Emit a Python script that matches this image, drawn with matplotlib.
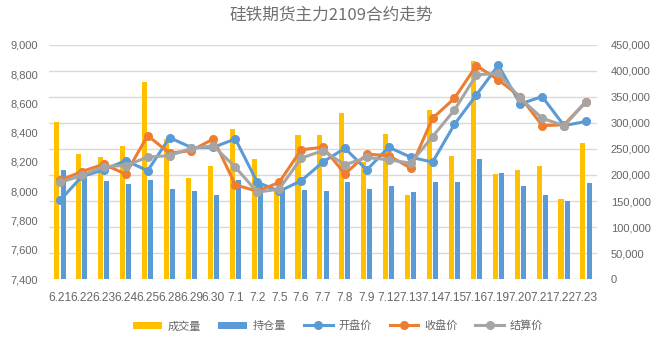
import matplotlib.pyplot as plt
import numpy as np

plt.rcParams['font.family'] = ['Liberation Sans', 'Noto Sans CJK SC', 'DejaVu Sans']

dates = ['6.21', '6.22', '6.23', '6.24', '6.25', '6.28', '6.29', '6.30', '7.1', '7.2',
         '7.5', '7.6', '7.7', '7.8', '7.9', '7.12', '7.13', '7.14', '7.15', '7.16',
         '7.19', '7.20', '7.21', '7.22', '7.23']
# 成交量 / 持仓量 (right axis)
volume = [302800, 240000, 234900, 254800, 378300, 269500, 194600, 216400, 288700, 231000,
          175000, 277200, 276000, 320000, 225600, 278400, 161900, 325200, 235600, 419300,
          202300, 209300, 217000, 154300, 262400]
open_int = [209300, 194000, 188800, 182400, 189500, 173500, 168300, 161900, 189500, 184000,
            172000, 171000, 170000, 186300, 173500, 178000, 166400, 187500, 187500, 231700,
            203500, 178000, 162000, 150400, 183700]
# prices (left axis)
open_p = [7937, 8101, 8146, 8210, 8140, 8366, 8299, 8300, 8358, 8062,
          8000, 8071, 8200, 8294, 8146, 8301, 8233, 8199, 8458, 8659,
          8861, 8597, 8647, 8449, 8477]
close_p = [8074, 8135, 8185, 8117, 8381, 8260, 8278, 8358, 8044, 8000,
           8060, 8283, 8301, 8119, 8253, 8244, 8158, 8499, 8636, 8859,
           8761, 8647, 8449, 8454, 8613]
settle_p = [8060, 8108, 8169, 8176, 8233, 8244, 8294, 8310, 8165, 7994,
            8014, 8226, 8278, 8181, 8231, 8215, 8192, 8374, 8556, 8795,
            8807, 8636, 8499, 8449, 8609]

c_yellow = '#FFC000'
c_blue = '#5B9BD5'
c_orange = '#ED7D31'
c_gray = '#A5A5A5'
txt = '#666666'

fig = plt.figure(figsize=(6.56, 3.46), dpi=100)
ax = fig.add_axes([0.0747, 0.1936, 0.8353, 0.6764])
ax2 = ax.twinx()
ax.set_zorder(ax2.get_zorder() + 1)
ax.patch.set_visible(False)

x = np.arange(len(dates))
w = 0.23
ax2.bar(x - 0.14, volume, w, color=c_yellow, label='成交量', zorder=2)
ax2.bar(x + 0.14, open_int, w, color=c_blue, label='持仓量', zorder=2)
ax2.set_ylim(0, 450000)
ax2.set_yticks(np.arange(0, 450001, 50000))
ax2.yaxis.set_major_formatter(plt.FuncFormatter(lambda v, p: f'{int(v):,}'))
ax2.grid(axis='y', color='#D9D9D9', linewidth=1, zorder=0)
ax2.set_axisbelow(True)

ms = 5.5
ax.plot(x, open_p, color=c_blue, lw=2.2, marker='o', ms=ms, label='开盘价')
ax.plot(x, close_p, color=c_orange, lw=2.2, marker='o', ms=ms, label='收盘价')
ax.plot(x, settle_p, color=c_gray, lw=2.2, marker='o', ms=ms, label='结算价')
ax.set_ylim(7400, 9000)
ax.set_yticks(np.arange(7400, 9001, 200))
ax.yaxis.set_major_formatter(plt.FuncFormatter(lambda v, p: f'{int(v):,}'))
ax.set_xlim(-0.5, len(dates) - 0.5)
ax.set_xticks(x)
ax.set_xticklabels(dates)

for a in (ax, ax2):
    for s in a.spines.values():
        s.set_visible(False)
    a.tick_params(length=0, labelsize=8, colors=txt)
ax.tick_params(axis='x', pad=9, labelsize=8.6)
ax.tick_params(axis='y', pad=8)
ax2.tick_params(axis='y', pad=10)

fig.text(0.505, 0.955, '硅铁期货主力2109合约走势', ha='center', va='center',
         fontsize=12, color='#707070', family=['Noto Sans CJK SC'])

h1, l1 = ax2.get_legend_handles_labels()
h2, l2 = ax.get_legend_handles_labels()
leg = fig.legend(h1 + h2, l1 + l2, loc='center', bbox_to_anchor=(0.515, 0.058), ncol=5,
                 frameon=False, prop={'family': 'Noto Sans CJK SC', 'size': 8},
                 handlelength=2.6, columnspacing=1.6, handletextpad=0.5)
for t in leg.get_texts():
    t.set_color(txt)

fig.savefig('out.png', dpi=100)
